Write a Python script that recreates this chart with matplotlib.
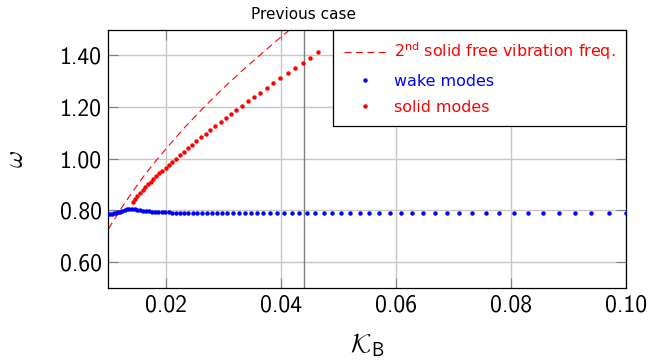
import matplotlib

matplotlib.use("Agg")
import matplotlib.pyplot as plt
from matplotlib.ticker import FixedLocator, FormatStrFormatter

# ---- values ----
wake_k = [
    0.01000, 0.01032, 0.01064, 0.01098, 0.01133, 0.01168, 0.01205, 0.01243,
    0.01283, 0.01323, 0.01365, 0.01408, 0.01453, 0.01499, 0.01546, 0.01595,
    0.01645, 0.01697, 0.01751, 0.01806, 0.01863, 0.01922, 0.01983, 0.02046,
    0.02111, 0.02177, 0.02246, 0.02317, 0.02390, 0.02466, 0.02544, 0.02624,
    0.02707, 0.02793, 0.02881, 0.02972, 0.03066, 0.03163, 0.03263, 0.03366,
    0.03472, 0.03582, 0.03695, 0.03812, 0.03933, 0.04057, 0.04185, 0.04318,
    0.04454, 0.04595, 0.04740, 0.04890, 0.05045, 0.05204, 0.05368, 0.05538,
    0.05713, 0.05894, 0.06080, 0.06272, 0.06471, 0.06675, 0.06886, 0.07104,
    0.07328, 0.07560, 0.07799, 0.08045, 0.08300, 0.08562, 0.08833, 0.09112,
    0.09400, 0.09697, 0.10000,
]
wake_omega = [
    0.784, 0.785, 0.786, 0.788, 0.790, 0.792, 0.795, 0.798,
    0.801, 0.803, 0.804, 0.805, 0.804, 0.802, 0.800, 0.798,
    0.797, 0.796, 0.795, 0.794, 0.793, 0.793, 0.792, 0.792,
    0.791, 0.791, 0.791, 0.790, 0.790, 0.790, 0.790, 0.789,
    0.789, 0.789, 0.789, 0.789, 0.789, 0.789, 0.789, 0.789,
    0.789, 0.789, 0.789, 0.789, 0.789, 0.789, 0.789, 0.789,
    0.789, 0.789, 0.789, 0.789, 0.789, 0.789, 0.789, 0.789,
    0.789, 0.789, 0.789, 0.789, 0.789, 0.789, 0.789, 0.789,
    0.789, 0.789, 0.789, 0.789, 0.789, 0.789, 0.789, 0.789,
    0.789, 0.789, 0.789,
]

solid_k = [
    0.01422, 0.01463, 0.01504, 0.01547, 0.01592, 0.01637, 0.01684, 0.01732,
    0.01782, 0.01833, 0.01885, 0.01939, 0.01994, 0.02051, 0.02110, 0.02173,
    0.02237, 0.02306, 0.02376, 0.02451, 0.02526, 0.02607, 0.02688, 0.02769,
    0.02856, 0.02948, 0.03035, 0.03127, 0.03220, 0.03324, 0.03428, 0.03532,
    0.03642, 0.03757, 0.03867, 0.03988, 0.04116, 0.04243, 0.04376, 0.04509,
    0.04647,
]
solid_omega = [
    0.831, 0.845, 0.855, 0.867, 0.878, 0.889, 0.900, 0.910,
    0.922, 0.932, 0.944, 0.954, 0.964, 0.974, 0.987, 1.000,
    1.013, 1.027, 1.040, 1.054, 1.068, 1.082, 1.096, 1.110,
    1.126, 1.142, 1.158, 1.173, 1.190, 1.205, 1.222, 1.239,
    1.256, 1.274, 1.292, 1.312, 1.331, 1.350, 1.371, 1.390,
    1.412,
]

free_k = [0.0100, 0.0120, 0.0140, 0.0160, 0.0180, 0.0200, 0.0230, 0.0265,
          0.0300, 0.0335, 0.0370, 0.0400, 0.0420]
free_omega = [0.728, 0.800, 0.866, 0.928, 0.985, 1.038, 1.115, 1.197,
              1.274, 1.346, 1.414, 1.472, 1.508]

previous_k = 0.044

xticks = [0.02, 0.04, 0.06, 0.08, 0.10]
yticks = [0.60, 0.80, 1.00, 1.20, 1.40]

INK = "black"
GRID = "#c8c8c8"
TICK = "#7f7f7f"

plt.rcParams["mathtext.fontset"] = "cm"

fig = plt.figure(figsize=(6.52, 3.62), dpi=100)
ax = fig.add_axes([0.1664, 0.2055, 0.7937, 0.7125])

ax.set_xlim(0.01, 0.10)
ax.set_ylim(0.5, 1.5)
ax.xaxis.set_major_locator(FixedLocator(xticks))
ax.yaxis.set_major_locator(FixedLocator(yticks))
ax.xaxis.set_major_formatter(FormatStrFormatter("%.2f"))
ax.yaxis.set_major_formatter(FormatStrFormatter("%.2f"))
ax.grid(True, color=GRID, lw=1.0, zorder=0)
ax.set_axisbelow(True)
ax.tick_params(direction="in", length=7, width=0.8, color=TICK,
               top=True, right=True, labelsize=17)
ax.tick_params(axis="x", pad=5)
ax.tick_params(axis="y", pad=5)
for lab in ax.get_xticklabels() + ax.get_yticklabels():
    lab.set_fontfamily("cmss10")
for s in ax.spines.values():
    s.set_color(INK)
    s.set_linewidth(0.9)

ax.axvline(previous_k, color="#808080", lw=1.0, zorder=1)
ax.annotate("Previous case", xy=(previous_k, 1.0),
            xycoords=("data", "axes fraction"), xytext=(0, 7.5),
            textcoords="offset points", ha="center", va="baseline",
            fontsize=11, color=INK, fontfamily="DejaVu Sans")

ax.plot(free_k, free_omega, color="red", lw=0.8, dashes=(6.3, 4),
        label=r"$2^{\mathrm{nd}}$ solid free vibration freq.", zorder=2)
ax.plot(wake_k, wake_omega, ls="none", marker="o", ms=3.2, mew=0,
        color="blue", label="wake modes", zorder=3)
ax.plot(solid_k, solid_omega, ls="none", marker="o", ms=3.2, mew=0,
        color="red", label="solid modes", zorder=4)

leg = ax.legend(loc="upper right", bbox_to_anchor=(1, 1), borderaxespad=0,
                fancybox=False, framealpha=1, edgecolor=INK, numpoints=1,
                handlelength=2.7, handletextpad=0.45, labelspacing=0.7,
                borderpad=0.7, prop={"family": "DejaVu Sans", "size": 11.4})
leg.get_frame().set_linewidth(0.9)
leg.set_zorder(10)
for txt, col in zip(leg.get_texts(), ["red", "blue", "red"]):
    txt.set_color(col)
    txt.set_math_fontfamily("dejavusans")

ax.set_xlabel(r"$\mathcal{K}_\mathsf{B}$", fontsize=19, labelpad=11)
ax.set_ylabel(r"$\omega$", fontsize=19, labelpad=22)

fig.savefig("out.png", dpi=100)
